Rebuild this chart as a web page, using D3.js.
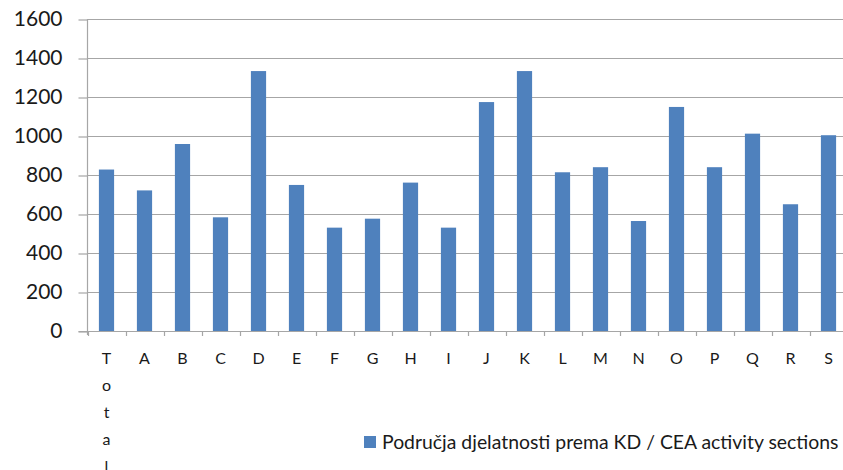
<!DOCTYPE html>
<html>
<head>
<meta charset="utf-8">
<script src="https://cdn.jsdelivr.net/npm/d3@7"></script>
<style>
  body { margin: 0; background: #fff; }
  svg { display: block; font-family: Lato, "Open Sans", sans-serif; }
</style>
</head>
<body>
<div id="chart"></div>
<script>
// data
var categories = ["Total", "A", "B", "C", "D", "E", "F", "G", "H", "I", "J", "K", "L", "M", "N", "O", "P", "Q", "R", "S"];
var values = [828, 721, 959, 583, 1333, 749, 530, 576, 761, 530, 1174, 1333, 814, 840, 564, 1149, 840, 1012, 650, 1004];
var yTicks = [0, 200, 400, 600, 800, 1000, 1200, 1400, 1600];
var seriesName = "Područja djelatnosti prema KD / CEA activity sections";

var width = 843, height = 470;
var plotLeft = 87.5, plotTop = 19, plotBottom = 331,
    step = 38,
    plotRight = plotLeft + step * categories.length; // runs past the picture edge, as in the source

var svg = d3.select("#chart").append("svg")
    .attr("width", width)
    .attr("height", height);

var y = d3.scaleLinear().domain([0, 1600]).range([plotBottom, plotTop]);

// category slots (ticks, labels) and bars inside them
var xSlot = d3.scaleBand().domain(categories).range([plotLeft, plotRight]);
var x = d3.scaleBand().domain(categories).range([plotLeft, plotRight])
    .paddingInner(0.6).paddingOuter(0.3);

// gridlines
svg.append("g")
  .selectAll("line")
  .data(yTicks.filter(function(d) { return d > 0; }))
  .enter().append("line")
    .attr("x1", plotLeft).attr("x2", width)
    .attr("y1", function(d) { return Math.round(y(d)) + 0.5; })
    .attr("y2", function(d) { return Math.round(y(d)) + 0.5; })
    .attr("stroke", "#a6a6a6")
    .attr("stroke-width", 1.2);

// y axis
var yAxis = svg.append("g")
    .attr("transform", "translate(" + plotLeft + ",0)")
    .call(d3.axisLeft(y).tickValues(yTicks).tickSize(9).tickPadding(16).tickFormat(d3.format("d")));
yAxis.select(".domain").remove();
yAxis.selectAll(".tick line").attr("stroke", "#a6a6a6").attr("stroke-width", 1.2)
    .attr("transform", "translate(0,0.5)");
yAxis.selectAll(".tick text")
    .attr("font-size", 21)
    .attr("font-family", "Lato, sans-serif")
    .attr("fill", "#1a1a1a");
svg.append("line")
    .attr("x1", plotLeft).attr("x2", plotLeft)
    .attr("y1", plotTop).attr("y2", plotBottom + 4)
    .attr("stroke", "#a6a6a6").attr("stroke-width", 1.2);

// bars
svg.append("g")
  .selectAll("rect")
  .data(values)
  .enter().append("rect")
    .attr("x", function(d, i) { return x(categories[i]); })
    .attr("width", x.bandwidth())
    .attr("y", function(d) { return y(d); })
    .attr("height", function(d) { return y(0) - y(d); })
    .attr("fill", "#4f81bd");

// x axis line and tick marks at slot boundaries
svg.append("line")
    .attr("x1", plotLeft - 9).attr("x2", width)
    .attr("y1", plotBottom + 0.5).attr("y2", plotBottom + 0.5)
    .attr("stroke", "#a6a6a6").attr("stroke-width", 1.2);
svg.append("g")
  .selectAll("line")
  .data(categories.concat(["end"]))
  .enter().append("line")
    .attr("x1", function(d, i) { return Math.round(plotLeft + i * xSlot.step()) + 0.5; })
    .attr("x2", function(d, i) { return Math.round(plotLeft + i * xSlot.step()) + 0.5; })
    .attr("y1", plotBottom).attr("y2", plotBottom + 5)
    .attr("stroke", "#a6a6a6").attr("stroke-width", 1.2);

// category labels; "Total" wraps one letter per line
var labels = svg.append("g")
  .selectAll("text")
  .data(categories)
  .enter().append("text")
    .attr("text-anchor", "middle")
    .attr("font-size", 16)
    .attr("fill", "#1a1a1a");
labels.each(function(c) {
  var t = d3.select(this);
  var cx = xSlot(c) + xSlot.bandwidth() / 2;
  c.split("").forEach(function(ch, k) {
    t.append("tspan").attr("x", cx).attr("y", 364 + k * 27).text(ch);
  });
});

// legend
svg.append("rect")
    .attr("x", 364).attr("y", 436)
    .attr("width", 12).attr("height", 12)
    .attr("fill", "#4f81bd");
svg.append("text")
    .attr("x", 382).attr("y", 449)
    .attr("font-size", 19.4)
    .attr("fill", "#1a1a1a")
    .text(seriesName);
</script>
</body>
</html>
